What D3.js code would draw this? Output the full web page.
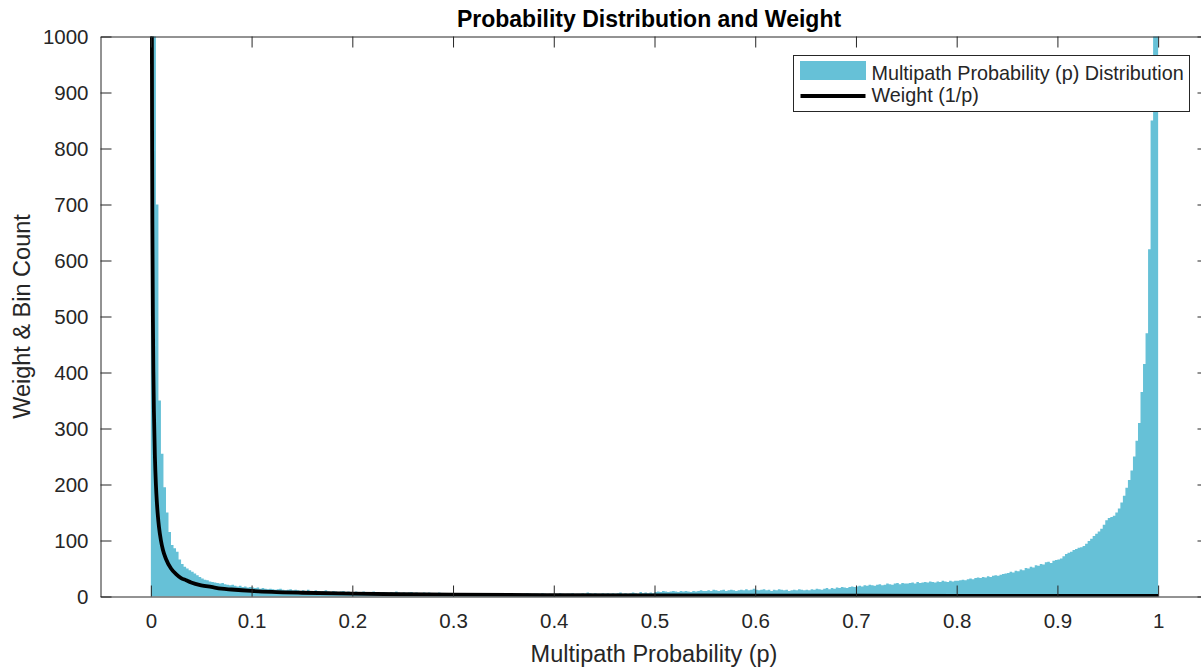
<!DOCTYPE html>
<html>
<head>
<meta charset="utf-8">
<script src="https://cdn.jsdelivr.net/npm/d3@7"></script>
<style>
  body { margin: 0; background: #fff; }
  text { font-family: "Liberation Sans", Arial, sans-serif; fill: #262626; }
</style>
</head>
<body>
<script>
// x / y ticks
const xTicks = [0, 0.1, 0.2, 0.3, 0.4, 0.5, 0.6, 0.7, 0.8, 0.9, 1];
const yTicks = [0, 100, 200, 300, 400, 500, 600, 700, 800, 900, 1000];

// histogram: bins of width 0.0025 from p = 0 to 1, counts (20 per row = 0.05)
const binStart = 0;
const binWidth = 0.0025;
const binCounts = [
  1500,1200,700,350,255,195,150,115,92,86,80,66,58,53,50,47,44,41,38,35,
  32,30,29,27,26,25,24,23,24,22,21,20,21,19,18,19,17,18,16,17,
  16,15,16,14,15,14,13,14,13,12,13,14,12,11,12,13,11,12,11,10,
  11,10,12,10,9,11,10,9,10,11,9,8,10,9,8,9,10,8,9,8,
  8,9,7,8,9,8,7,8,9,7,8,7,8,7,6,8,7,9,7,6,
  7,6,7,8,6,7,6,5,7,6,7,6,5,6,7,6,5,6,5,6,
  5,6,5,6,5,4,6,5,6,5,4,5,6,5,4,5,6,5,4,5,
  5,4,5,6,5,4,5,4,5,6,5,4,5,5,4,6,5,4,5,4,
  5,4,6,5,4,5,5,6,4,5,5,6,5,7,6,5,6,5,5,6,
  5,6,5,6,5,6,7,5,6,5,6,7,6,5,8,6,7,6,7,6,
  8,9,8,10,9,8,9,10,9,8,10,9,10,9,8,10,9,10,11,10,
  10,11,10,12,11,10,11,12,10,11,12,11,10,11,12,11,13,11,12,14,
  12,11,12,13,11,12,10,12,11,13,12,11,12,10,11,12,11,13,12,11,
  12,11,13,12,14,13,12,14,15,13,15,14,16,15,17,16,15,17,18,17,
  18,19,18,20,19,21,20,19,21,22,20,21,23,22,21,23,24,22,24,23,
  23,24,25,23,26,24,25,26,25,27,26,25,27,26,28,27,26,28,27,28,
  28,29,30,29,31,32,31,33,34,33,35,34,36,35,37,38,37,39,40,41,
  42,44,43,46,45,48,47,51,50,53,52,56,55,58,57,61,62,60,64,65,
  66,68,72,76,78,80,83,85,87,88,90,94,99,103,108,112,116,121,128,136,
  140,142,144,150,157,168,180,194,208,225,250,278,310,365,415,470,620,850,1400,1800
];

// weight curve (1/p)
const weightP = [0.0008, 0.001, 0.0012, 0.0015, 0.002, 0.0025, 0.003, 0.004, 0.005, 0.006, 0.007, 0.008,
  0.01, 0.012, 0.015, 0.02, 0.025, 0.03, 0.035, 0.04, 0.05, 0.06, 0.07, 0.08, 0.1, 0.12, 0.15,
  0.2, 0.25, 0.3, 0.4, 0.5, 0.6, 0.7, 0.8, 0.9, 1.0];
const weightW = [1250, 1000, 833, 667, 500, 400, 333, 250, 200, 167, 143, 125,
  100, 83, 67, 50, 40, 33, 29, 25, 20, 17, 14, 12.5, 10, 8.3, 6.7,
  5, 4, 3.3, 2.5, 2, 1.7, 1.4, 1.25, 1.1, 1];

const W = 1201, H = 669;
const pLeft = 100.5, pRight = 1208.5, pTop = 36.5, pBottom = 596.5;

const svg = d3.select("body").append("svg")
  .attr("width", W)
  .attr("height", H);

const x = d3.scaleLinear().domain([-0.05, 1.05]).range([pLeft, pRight]);
const y = d3.scaleLinear().domain([0, 1000]).range([pBottom, pTop]);

svg.append("clipPath").attr("id", "plotclip")
  .append("rect")
  .attr("x", pLeft).attr("y", pTop)
  .attr("width", pRight - pLeft).attr("height", pBottom - pTop);

const plot = svg.append("g").attr("clip-path", "url(#plotclip)");

// histogram as one stepped area
const histPts = binCounts.map((c, i) => [binStart + i * binWidth, c]);
histPts.push([binStart + binCounts.length * binWidth, binCounts[binCounts.length - 1]]);

plot.append("path")
  .datum(histPts)
  .attr("fill", "#66c1d7")
  .attr("d", d3.area()
    .x(d => x(d[0]))
    .y0(y(0))
    .y1(d => y(d[1]))
    .curve(d3.curveStepAfter));

// weight line
plot.append("path")
  .datum(weightP.map((p, i) => [p, weightW[i]]))
  .attr("fill", "none")
  .attr("stroke", "#000")
  .attr("stroke-width", 3.8)
  .attr("stroke-linejoin", "round")
  .attr("d", d3.line()
    .x(d => x(d[0]))
    .y(d => y(d[1]))
    .curve(d3.curveMonotoneX));

// axes
const tickLen = 11;
function styleAxis(g) {
  g.select(".domain").attr("stroke", "#262626").attr("stroke-width", 1);
  g.selectAll(".tick line").attr("stroke", "#262626");
  g.selectAll(".tick text")
    .style("font-family", '"Liberation Sans", Arial, sans-serif')
    .style("font-size", "20.5px")
    .attr("fill", "#262626");
}

svg.append("g")
  .attr("transform", "translate(0," + pBottom + ")")
  .call(d3.axisBottom(x).tickValues(xTicks).tickSize(-tickLen).tickSizeOuter(0)
    .tickPadding(17).tickFormat(d3.format("~g")))
  .call(styleAxis);

svg.append("g")
  .attr("transform", "translate(0," + pTop + ")")
  .call(d3.axisTop(x).tickValues(xTicks).tickSize(-tickLen).tickSizeOuter(0).tickFormat(""))
  .call(styleAxis);

svg.append("g")
  .attr("transform", "translate(" + pLeft + ",0)")
  .call(d3.axisLeft(y).tickValues(yTicks).tickSize(-tickLen).tickSizeOuter(0)
    .tickPadding(12).tickFormat(d3.format("d")))
  .call(styleAxis);

svg.append("g")
  .attr("transform", "translate(" + pRight + ",0)")
  .call(d3.axisRight(y).tickValues(yTicks).tickSize(-tickLen).tickSizeOuter(0).tickFormat(""))
  .call(styleAxis);

// title and labels
svg.append("text")
  .attr("x", 649)
  .attr("y", 27)
  .attr("text-anchor", "middle")
  .style("font-size", "23px")
  .style("font-weight", "bold")
  .style("fill", "#000")
  .text("Probability Distribution and Weight");

svg.append("text")
  .attr("x", 654)
  .attr("y", 662)
  .attr("text-anchor", "middle")
  .style("font-size", "23.5px")
  .text("Multipath Probability (p)");

svg.append("text")
  .attr("transform", "translate(30," + ((pTop + pBottom) / 2) + ") rotate(-90)")
  .attr("text-anchor", "middle")
  .style("font-size", "23.5px")
  .text("Weight & Bin Count");

// legend
const lg = svg.append("g").attr("transform", "translate(793.5,55.5)");
lg.append("rect")
  .attr("width", 396).attr("height", 56)
  .attr("fill", "#fff").attr("stroke", "#262626").attr("stroke-width", 1);
lg.append("rect")
  .attr("x", 6.5).attr("y", 5.5).attr("width", 66).attr("height", 19)
  .attr("fill", "#66c1d7");
lg.append("line")
  .attr("x1", 7).attr("x2", 72).attr("y1", 40.5).attr("y2", 40.5)
  .attr("stroke", "#000").attr("stroke-width", 3.8);
lg.append("text").attr("x", 78).attr("y", 24)
  .style("font-size", "19.8px")
  .text("Multipath Probability (p) Distribution");
lg.append("text").attr("x", 78).attr("y", 46)
  .style("font-size", "19.8px")
  .text("Weight (1/p)");
</script>
</body>
</html>
